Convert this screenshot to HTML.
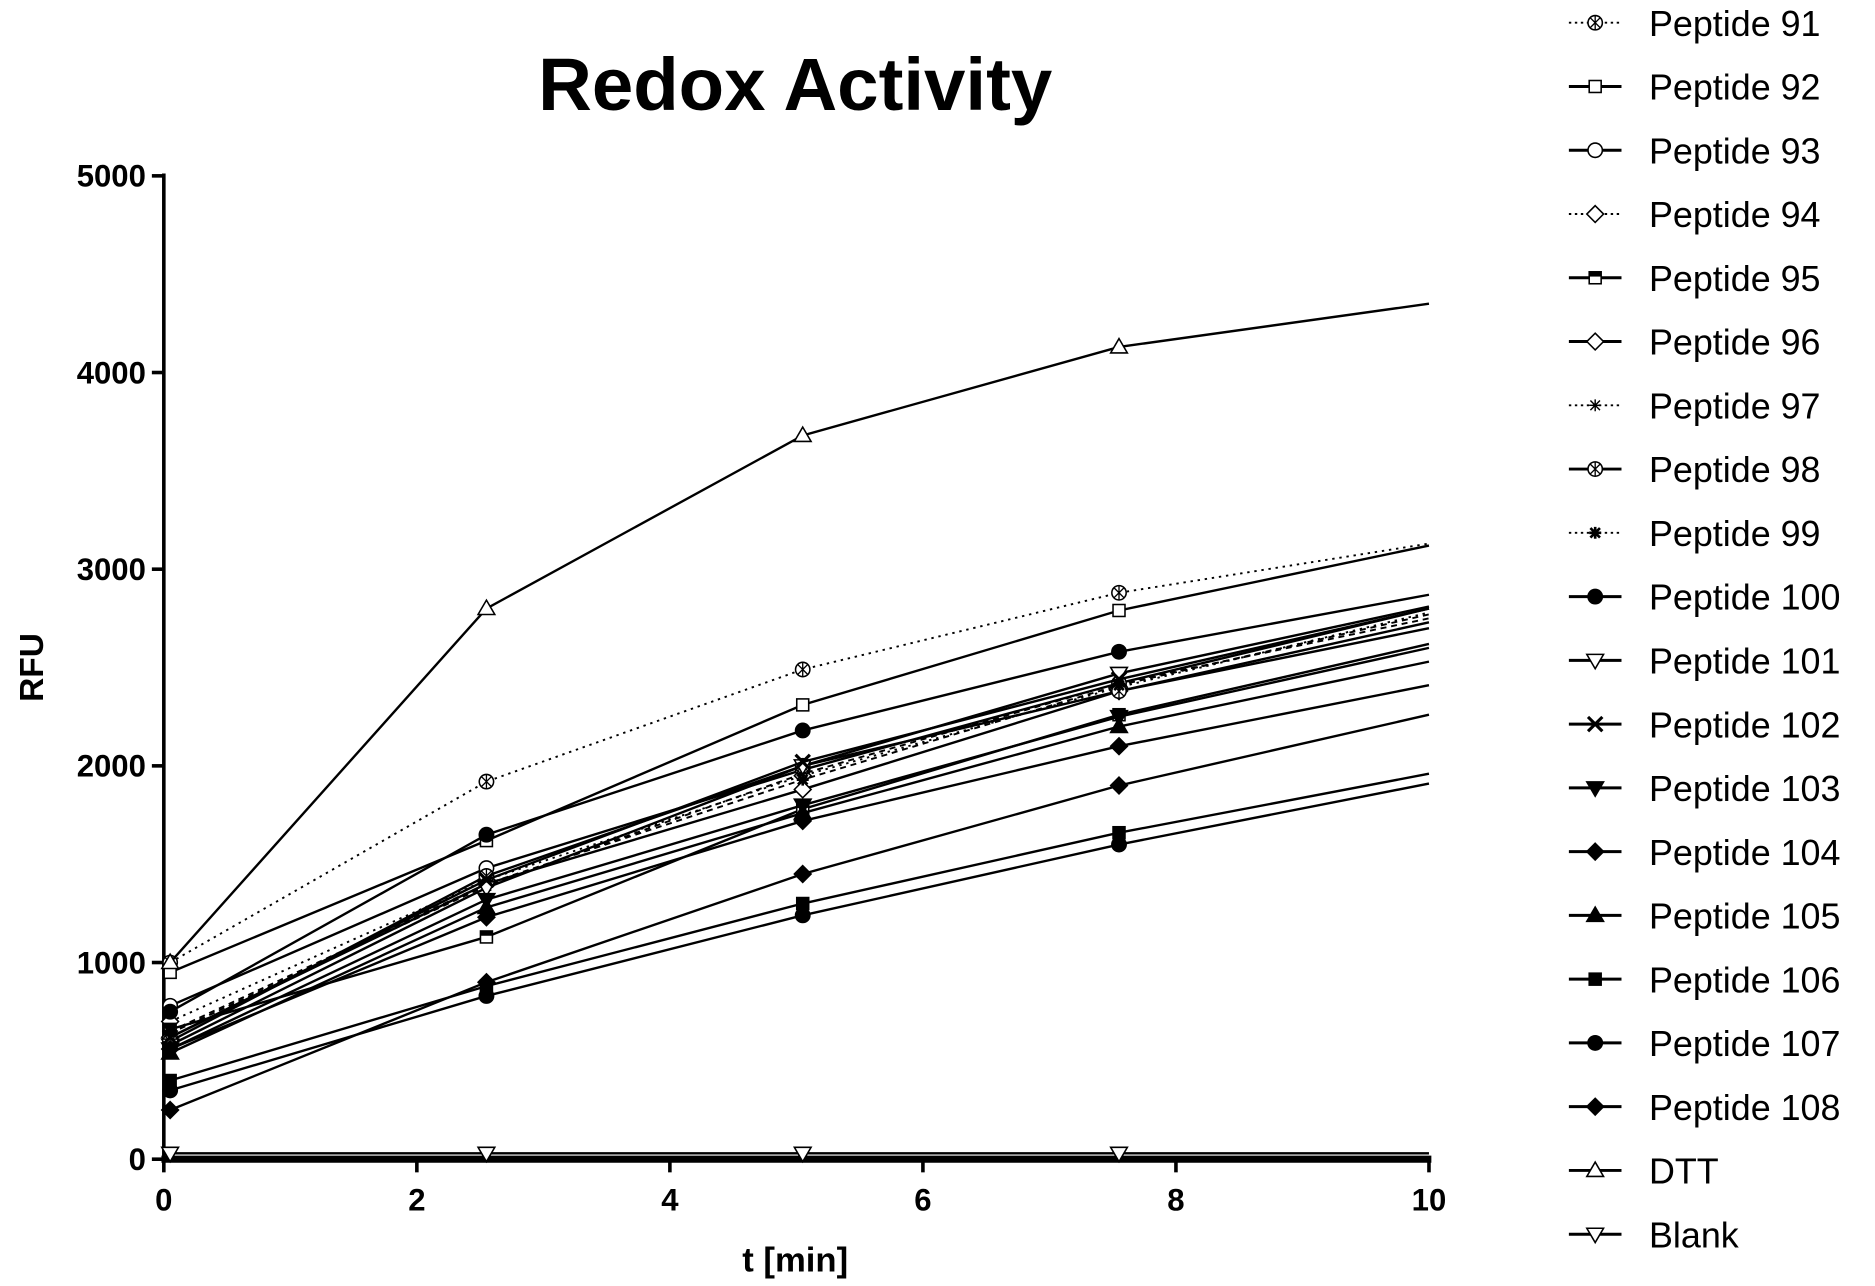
<!DOCTYPE html>
<html><head><meta charset="utf-8"><style>
html,body{margin:0;padding:0;background:#fff;}
svg{display:block;}
text{font-family:"Liberation Sans",Arial,sans-serif;}
</style></head><body>
<svg id="s" width="1875" height="1286" viewBox="0 0 1568 1075" preserveAspectRatio="none" xmlns="http://www.w3.org/2000/svg">
<rect width="1568" height="1075" fill="#fff"/>
<text x="665" y="92" font-size="62" font-weight="bold" text-anchor="middle" textLength="430" lengthAdjust="spacingAndGlyphs">Redox Activity</text>
<text transform="translate(36,558) rotate(-90)" font-size="28" font-weight="bold" text-anchor="middle">RFU</text>
<text x="665" y="1063" font-size="29" font-weight="bold" text-anchor="middle">t [min]</text>
<g id="axes" stroke="#000" fill="none">
<line x1="137" y1="145" x2="137" y2="971" stroke-width="3"/>
<line x1="135" y1="969" x2="1197" y2="969" stroke-width="6"/>
</g>
<g id="plot"></g>
<g id="legend"></g>
</svg>
<script>
var NS="http://www.w3.org/2000/svg";
function el(p,t,a,txt){var e=document.createElementNS(NS,t);for(var k in a)e.setAttribute(k,a[k]);if(txt!=null)e.textContent=txt;p.appendChild(e);return e;}
var axes=document.getElementById('axes'),plot=document.getElementById('plot'),leg=document.getElementById('legend'),svg=document.getElementById('s');
function X(t){return 137+t*105.8;}function Y(v){return 969-v*0.1644;}
for(var i=0;i<=5;i++){var y=Y(i*1000);el(axes,'line',{x1:127,y1:y,x2:137,y2:y,'stroke-width':3});
el(svg,'text',{x:122,y:y+9,'font-size':26,'font-weight':'bold','text-anchor':'end'},String(i*1000));}
for(var i=0;i<=5;i++){var x=X(i*2);el(axes,'line',{x1:x,y1:969,x2:x,y2:980,'stroke-width':3});
el(svg,'text',{x:x,y:1012,'font-size':26,'font-weight':'bold','text-anchor':'middle'},String(i*2));}
var ts=[0.05,2.55,5.05,7.55,10];
var S=[
["Peptide 91","cx",0,"2,4",[1000,1920,2490,2880,3130]],
["Peptide 92","sq",0,"",[950,1620,2310,2790,3120]],
["Peptide 93","ci",0,"",[780,1480,1980,2420,2800]],
["Peptide 94","di",0,"2,4",[700,1420,1950,2400,2780]],
["Peptide 95","sqh",0,"",[660,1130,1780,2260,2620]],
["Peptide 96","di",0,"",[620,1400,1880,2380,2700]],
["Peptide 97","st",0,"5,4",[640,1390,1960,2420,2750]],
["Peptide 98","cx",0,"",[600,1440,2000,2380,2730]],
["Peptide 99","st",1,"5,4",[650,1400,1930,2410,2770]],
["Peptide 100","ci",1,"",[750,1650,2180,2580,2870]],
["Peptide 101","tdn",0,"",[580,1380,2000,2470,2810]],
["Peptide 102","x",0,"",[620,1420,2020,2440,2800]],
["Peptide 103","tdn",1,"",[560,1320,1800,2250,2600]],
["Peptide 104","di",1,"",[560,1230,1720,2100,2410]],
["Peptide 105","tup",1,"",[540,1280,1760,2200,2530]],
["Peptide 106","sq",1,"",[400,880,1300,1660,1960]],
["Peptide 107","ci",1,"",[350,830,1240,1600,1910]],
["Peptide 108","di",1,"",[250,900,1450,1900,2260]],
["DTT","tup",0,"",[1000,2800,3680,4130,4350]],
["Blank","tdn",0,"",[30,30,30,30,30]]];
function mk(g,type,fill,x,y){var f=fill?"#000":"#fff",a={stroke:"#000","stroke-width":1.3,fill:f};var r=6;
switch(type){
case"ci":case"cx":a.cx=x;a.cy=y;a.r=r;el(g,'circle',a);if(type=="cx"){el(g,'path',{d:"M"+(x-4)+" "+(y-4)+"L"+(x+4)+" "+(y+4)+"M"+(x+4)+" "+(y-4)+"L"+(x-4)+" "+(y+4)+"M"+x+" "+(y-6)+"V"+(y+6),stroke:"#000","stroke-width":1.1});}break;
case"sq":case"sqh":a.x=x-5;a.y=y-5;a.width=10;a.height=10;el(g,'rect',a);if(type=="sqh")el(g,'rect',{x:x-5,y:y-5,width:10,height:4,fill:"#000"});break;
case"di":a.d="M"+x+" "+(y-7)+"L"+(x+7)+" "+y+"L"+x+" "+(y+7)+"L"+(x-7)+" "+y+"Z";el(g,'path',a);break;
case"tup":a.d="M"+x+" "+(y-7)+"L"+(x+7)+" "+(y+5)+"L"+(x-7)+" "+(y+5)+"Z";el(g,'path',a);break;
case"tdn":a.d="M"+x+" "+(y+7)+"L"+(x+7)+" "+(y-5)+"L"+(x-7)+" "+(y-5)+"Z";el(g,'path',a);break;
case"st":el(g,'path',{d:"M"+(x-5)+" "+y+"H"+(x+5)+"M"+x+" "+(y-5)+"V"+(y+5)+"M"+(x-4)+" "+(y-4)+"L"+(x+4)+" "+(y+4)+"M"+(x+4)+" "+(y-4)+"L"+(x-4)+" "+(y+4),stroke:"#000","stroke-width":fill?2.2:1.2});break;
case"x":el(g,'path',{d:"M"+(x-6)+" "+(y-6)+"L"+(x+6)+" "+(y+6)+"M"+(x+6)+" "+(y-6)+"L"+(x-6)+" "+(y+6),stroke:"#000","stroke-width":2.6});break;}}
S.forEach(function(s,i){
var pts=s[4].map(function(v,j){return X(ts[j])+","+Y(v);}).join(" ");
var a={points:pts,fill:"none",stroke:"#000","stroke-width":s[3]?1.6:2};if(s[3])a["stroke-dasharray"]=s[3];
el(plot,'polyline',a);
s[4].forEach(function(v,j){if(j<4)mk(plot,s[1],s[2],X(ts[j]),Y(v));});
var ly=19+i*53.3;
var la={x1:1312,y1:ly,x2:1356,y2:ly,stroke:"#000","stroke-width":s[3]?1.6:2.5};if(s[3])la["stroke-dasharray"]="2,3";
el(leg,'line',la);mk(leg,s[1],s[2],1334,ly);
el(leg,'text',{x:1379,y:ly+11,'font-size':30},s[0]);
});
</script>
</body></html>
